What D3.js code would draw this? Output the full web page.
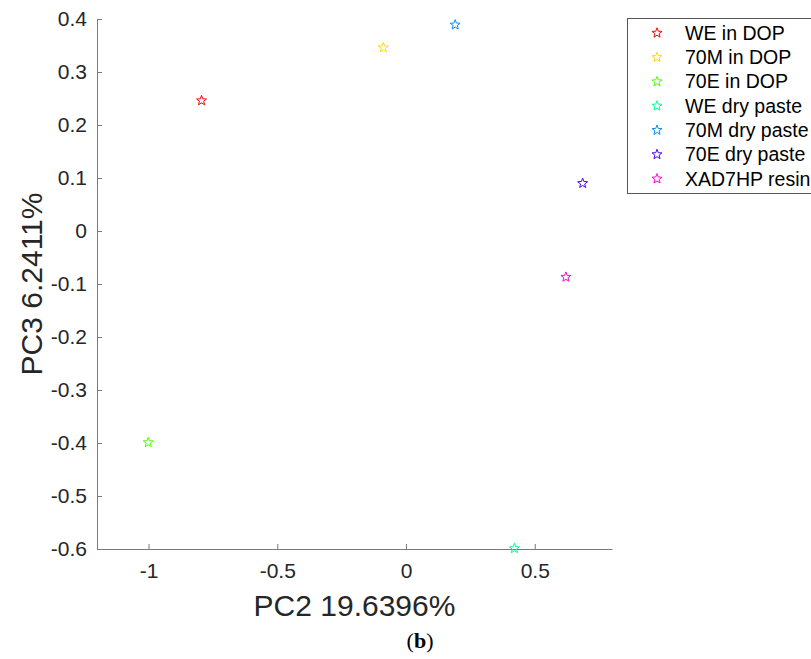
<!DOCTYPE html>
<html>
<head>
<meta charset="utf-8">
<script src="https://cdn.jsdelivr.net/npm/d3@7"></script>
<style>
  html, body { margin: 0; padding: 0; background: #fff; }
  svg { display: block; font-family: "Liberation Sans", Arial, Helvetica, sans-serif; }
</style>
</head>
<body>
<svg id="chart" width="811" height="659"></svg>
<script>
const seriesNames = ["WE in DOP", "70M in DOP", "70E in DOP", "WE dry paste", "70M dry paste", "70E dry paste", "XAD7HP resin"];
const pc2Values = [-0.794, -0.088, -1.001, 0.421, 0.191, 0.686, 0.621];
const pc3Values = [0.246, 0.346, -0.399, -0.599, 0.389, 0.090, -0.087];
const seriesColors = ["#FF0000", "#FFDB00", "#49FF00", "#00FF92", "#0092FF", "#4900FF", "#FF00DB"];
const xTicks = [-1, -0.5, 0, 0.5];
const yTicks = [0.4, 0.3, 0.2, 0.1, 0, -0.1, -0.2, -0.3, -0.4, -0.5, -0.6];
const xTitle = "PC2 19.6396%";
const yTitle = "PC3 6.2411%";
const panelLabel = "b";

const svg = d3.select("#chart");
const mLeft = 97, mRight = 612, mTop = 19, mBottom = 549;
const x = d3.scaleLinear().domain([-1.2, 0.8]).range([mLeft, mRight]);
const y = d3.scaleLinear().domain([-0.6, 0.4]).range([mBottom, mTop]);
const axisColor = "#7a7a7a";
const textColor = "#262626";

const fmt = d => d === 0 ? "0" : String(d);

// X axis (ticks inward)
const gx = svg.append("g").attr("transform", `translate(0,${mBottom})`)
  .call(d3.axisBottom(x).tickValues(xTicks).tickFormat(fmt).tickSizeInner(-5).tickSizeOuter(0).tickPadding(14));
gx.select(".domain").attr("stroke", axisColor).attr("stroke-width", 1);
gx.selectAll(".tick line").attr("stroke", axisColor);
gx.selectAll(".tick text").attr("fill", textColor).attr("font-size", 21)
  .attr("font-family", "'Liberation Sans', Arial, sans-serif");

// Y axis (ticks inward)
const gy = svg.append("g").attr("transform", `translate(${mLeft},0)`)
  .call(d3.axisLeft(y).tickValues(yTicks).tickFormat(fmt).tickSizeInner(-5).tickSizeOuter(0).tickPadding(10));
gy.select(".domain").attr("stroke", axisColor).attr("stroke-width", 1);
gy.selectAll(".tick line").attr("stroke", axisColor);
gy.selectAll(".tick text").attr("fill", textColor).attr("font-size", 21)
  .attr("font-family", "'Liberation Sans', Arial, sans-serif");

// Axis titles
svg.append("text").attr("x", (mLeft + mRight) / 2).attr("y", 616)
  .attr("text-anchor", "middle").attr("font-size", 30).attr("fill", textColor)
  .text(xTitle);
svg.append("text").attr("transform", `translate(42,${(mTop + mBottom) / 2}) rotate(-90)`)
  .attr("text-anchor", "middle").attr("font-size", 30).attr("fill", textColor)
  .text(yTitle);

// Panel label
const pl = svg.append("text").attr("x", 420).attr("y", 648)
  .attr("text-anchor", "middle").attr("font-size", 22).attr("fill", "#000")
  .attr("font-family", "'Liberation Serif', 'DejaVu Serif', serif");
pl.append("tspan").text("(");
pl.append("tspan").attr("font-weight", "bold").text(panelLabel);
pl.append("tspan").text(")");

// Star path
function starPath(r) {
  const ri = r * 0.42;
  const pts = [];
  for (let i = 0; i < 10; i++) {
    const a = -Math.PI / 2 + i * Math.PI / 5;
    const rr = i % 2 === 0 ? r : ri;
    pts.push([rr * Math.cos(a), rr * Math.sin(a)]);
  }
  return "M" + pts.map(p => p[0].toFixed(2) + "," + p[1].toFixed(2)).join("L") + "Z";
}
const star = starPath(5.2);

// Points
svg.append("g").selectAll("path").data(seriesNames).join("path")
  .attr("d", star)
  .attr("transform", (d, i) => `translate(${x(pc2Values[i])},${y(pc3Values[i])})`)
  .attr("fill", "none")
  .attr("stroke", (d, i) => seriesColors[i])
  .attr("stroke-width", 1);

// Legend
const lg = svg.append("g");
lg.append("rect").attr("x", 627.5).attr("y", 18.5).attr("width", 220).attr("height", 175)
  .attr("fill", "#fff").attr("stroke", "#555").attr("stroke-width", 1);
const ly0 = 33, ldy = 24.3;
const items = lg.selectAll("g.item").data(seriesNames).join("g").attr("class", "item")
  .attr("transform", (d, i) => `translate(0,${ly0 + i * ldy})`);
items.append("path").attr("d", star).attr("transform", "translate(657,0)")
  .attr("fill", "none").attr("stroke", (d, i) => seriesColors[i]).attr("stroke-width", 1);
items.append("text").attr("x", 685).attr("y", 0).attr("dy", "0.35em")
  .attr("font-size", 19.5).attr("fill", "#000").text(d => d);
</script>
</body>
</html>
